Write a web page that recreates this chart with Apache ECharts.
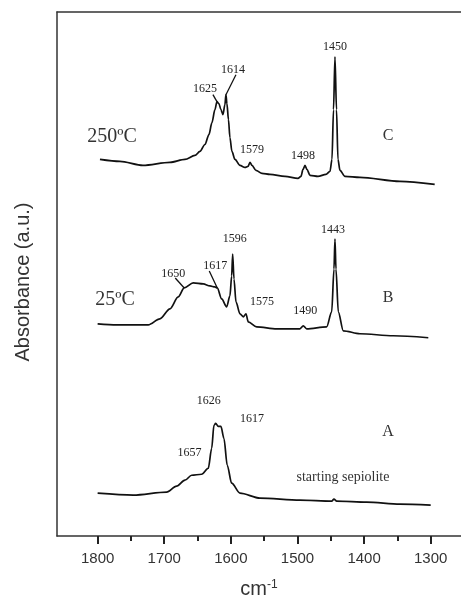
<!DOCTYPE html>
<html>
<head>
<meta charset="utf-8">
<script src="https://cdn.jsdelivr.net/npm/echarts@6/dist/echarts.min.js"></script>
<style>
html,body{margin:0;padding:0;background:#fff;}
#main{width:461px;height:604px;}
</style>
</head>
<body>
<div id="main"></div>
<script>
// ---- data (wavenumber cm-1, absorbance a.u., curves stacked with offsets) ----
const majorTicks = [1800, 1700, 1600, 1500, 1400, 1300];
const minorTicks = [1750, 1650, 1550, 1450, 1350];

const wnC = [1796.5,1766.5,1732,1691.4,1668.9,1653.9,1646.4,1638.9,1632.9,1628.4,1623.9,1620.9,1617.9,1614.9,1611.9,1608.9,1607.4,1605.9,1603.6,1601.4,1598.4,1593.8,1586.3,1578.8,1574.3,1571.3,1568.3,1562.3,1553.3,1541.3,1518.7,1499.2,1494.7,1491.7,1488.7,1485.7,1481.2,1469.2,1457.2,1451.2,1448.2,1445.9,1443.7,1441.4,1439.2,1436.2,1428.7,1406.2,1346.1,1294];
const absC = [3.78,3.76,3.72,3.75,3.78,3.82,3.86,3.93,4.03,4.15,4.28,4.36,4.34,4.28,4.23,4.33,4.43,4.34,4.18,4.00,3.86,3.78,3.72,3.70,3.71,3.75,3.72,3.67,3.64,3.63,3.61,3.59,3.61,3.68,3.72,3.68,3.62,3.61,3.63,3.66,3.78,4.28,4.81,4.28,3.78,3.67,3.61,3.60,3.56,3.53];

const wnB = [1800,1771.5,1724,1706.5,1691.4,1679,1670,1656.5,1641.4,1631.4,1623.9,1620.4,1613.8,1606.3,1601.4,1598.8,1597.3,1595.3,1592.3,1586.3,1581.4,1577.3,1573.9,1561.3,1531.2,1496.2,1491.3,1486.2,1456.2,1448.6,1445.2,1443.7,1442.2,1438.7,1431.2,1406.2,1356.2,1303.6];
const absB = [2.13,2.12,2.12,2.18,2.28,2.40,2.49,2.54,2.53,2.51,2.50,2.49,2.38,2.30,2.41,2.61,2.83,2.58,2.35,2.23,2.20,2.23,2.15,2.10,2.08,2.08,2.11,2.08,2.10,2.25,2.68,2.98,2.68,2.25,2.06,2.03,2.01,1.99];

const wnA = [1800,1746.5,1696.4,1681.4,1668.9,1658.9,1643.8,1633.9,1628.8,1625.4,1622.8,1618.9,1614.9,1610.4,1605.4,1598.8,1586.3,1556.3,1496.2,1448.6,1445.2,1441.1,1396.1,1346.1,1300];
const absA = [0.43,0.41,0.44,0.50,0.56,0.61,0.62,0.68,0.88,1.11,1.13,1.10,1.10,0.98,0.71,0.53,0.43,0.38,0.36,0.35,0.37,0.35,0.34,0.32,0.31];

// peak annotations: text, anchor wavenumber (feature on curve)
const peaksC = [['1625',1620.9],['1614',1607.4],['1579',1571.3],['1498',1488.7],['1450',1443.7]];
const peaksB = [['1650',1670],['1617',1620.4],['1596',1597.3],['1575',1577.3],['1490',1491.3],['1443',1443.7]];
const peaksA = [['1626',1622.8],['1617',1614.9],['1657',1658.9]];
const curveNames = ['C','B','A'];
const tempLabels = ['250ºC','25ºC'];
const sampleNote = 'starting sepiolite';

// ---- layout/style for annotations (pixel offsets from anchor) ----
const styleC = [{dx:-12,dy:-13,lead:[-4,-7]},{dx:7,dy:-25,lead:[10,-20]},{dx:2,dy:-13},{dx:-2,dy:-10},{dx:0,dy:-10}];
const styleB = [{dx:-11,dy:-14,lead:[-9,-10]},{dx:-2,dy:-22,lead:[-8,-17]},{dx:2,dy:-15},{dx:16,dy:-12},{dx:2,dy:-15},{dx:-2,dy:-9}];
const styleA = [{dx:-7,dy:-23},{dx:31,dy:-8},{dx:-2,dy:-22}];

const zip = (a,b) => a.map((v,i)=>[v,b[i]]);
const chart = echarts.init(document.getElementById('main'), null, {renderer:'canvas'});
const SERIF = '"Liberation Serif","Times New Roman",serif';
const SANS = '"Liberation Sans",Arial,Helvetica,sans-serif';
const lineStyle = {color:'#111', width:1.7};
const frame = {show:true, onZero:false, lineStyle:{color:'#333', width:1.5}};
const X_MIN = 1254.5, X_MAX = 1861;

chart.setOption({
  animation:false,
  grid:{left:57, right:0, top:12, bottom:66},
  xAxis:[{
    type:'value', inverse:true, min:X_MIN, max:X_MAX, position:'bottom',
    axisLine:frame,
    axisTick:{show:true, customValues:majorTicks, length:8, lineStyle:{color:'#222', width:2}},
    axisLabel:{show:true, customValues:majorTicks, formatter:v=>String(v), fontSize:15, fontFamily:SANS, color:'#333', margin:15},
    splitLine:{show:false},
    name:'{a|cm}{b|-1}', nameLocation:'middle', nameGap:43,
    nameTextStyle:{fontFamily:SANS, color:'#333', rich:{a:{fontSize:20, fontFamily:SANS, color:'#333', verticalAlign:'bottom'}, b:{fontSize:12, fontFamily:SANS, color:'#333', verticalAlign:'top'}}}
  },{
    type:'value', inverse:true, min:X_MIN, max:X_MAX, position:'bottom',
    axisLine:{show:false},
    axisTick:{show:true, customValues:minorTicks, length:5, lineStyle:{color:'#222', width:2}},
    axisLabel:{show:false}, splitLine:{show:false}
  },{
    type:'value', inverse:true, min:X_MIN, max:X_MAX, position:'top',
    axisLine:frame, axisTick:{show:false}, axisLabel:{show:false}, splitLine:{show:false}
  }],
  yAxis:{
    type:'value', min:0, max:5.26, position:'left',
    axisLine:frame, axisTick:{show:false}, axisLabel:{show:false}, splitLine:{show:false},
    name:'Absorbance (a.u.)', nameLocation:'middle', nameGap:24,
    nameTextStyle:{fontSize:20, fontFamily:SANS, color:'#333', padding:[0,16,0,0]}
  },
  series:[
    {type:'line', data:zip(wnC,absC), showSymbol:false, lineStyle, xAxisIndex:0, smooth:0.3, smoothMonotone:'x'},
    {type:'line', data:zip(wnB,absB), showSymbol:false, lineStyle, xAxisIndex:0, smooth:0.3, smoothMonotone:'x'},
    {type:'line', data:zip(wnA,absA), showSymbol:false, lineStyle, xAxisIndex:0, smooth:0.3, smoothMonotone:'x'}
  ]
});

function anchorPx(wn, ab, w){
  let best = 0;
  for(let i=1;i<wn.length;i++){ if(Math.abs(wn[i]-w) < Math.abs(wn[best]-w)) best = i; }
  return chart.convertToPixel({xAxisIndex:0, yAxisIndex:0}, [wn[best], ab[best]]);
}
const elements = [];
function addPeaks(peaks, styles, wn, ab){
  peaks.forEach((p,i)=>{
    const s = styles[i];
    const a = anchorPx(wn, ab, p[1]);
    elements.push({type:'text', x:a[0]+s.dx, y:a[1]+s.dy, silent:true,
      style:{text:p[0], font:'12px '+SERIF, fill:'#222', align:'center', verticalAlign:'middle'}});
    if(s.lead){
      elements.push({type:'line', silent:true,
        shape:{x1:a[0], y1:a[1], x2:a[0]+s.lead[0], y2:a[1]+s.lead[1]},
        style:{stroke:'#111', lineWidth:1.3}});
    }
  });
}
addPeaks(peaksC, styleC, wnC, absC);
addPeaks(peaksB, styleB, wnB, absB);
addPeaks(peaksA, styleA, wnA, absA);

const textPos = [
  [tempLabels[0], 112, 137, 20], [tempLabels[1], 115, 300, 20],
  [curveNames[0], 388, 136, 16], [curveNames[1], 388, 298, 16], [curveNames[2], 388, 432, 16],
  [sampleNote, 343, 477, 14]
];
textPos.forEach(t=>{
  elements.push({type:'text', x:t[1], y:t[2], silent:true,
    style:{text:t[0], font:t[3]+'px '+SERIF, fill:'#333', align:'center', verticalAlign:'middle'}});
});
chart.setOption({graphic:{elements}});
</script>
</body>
</html>
